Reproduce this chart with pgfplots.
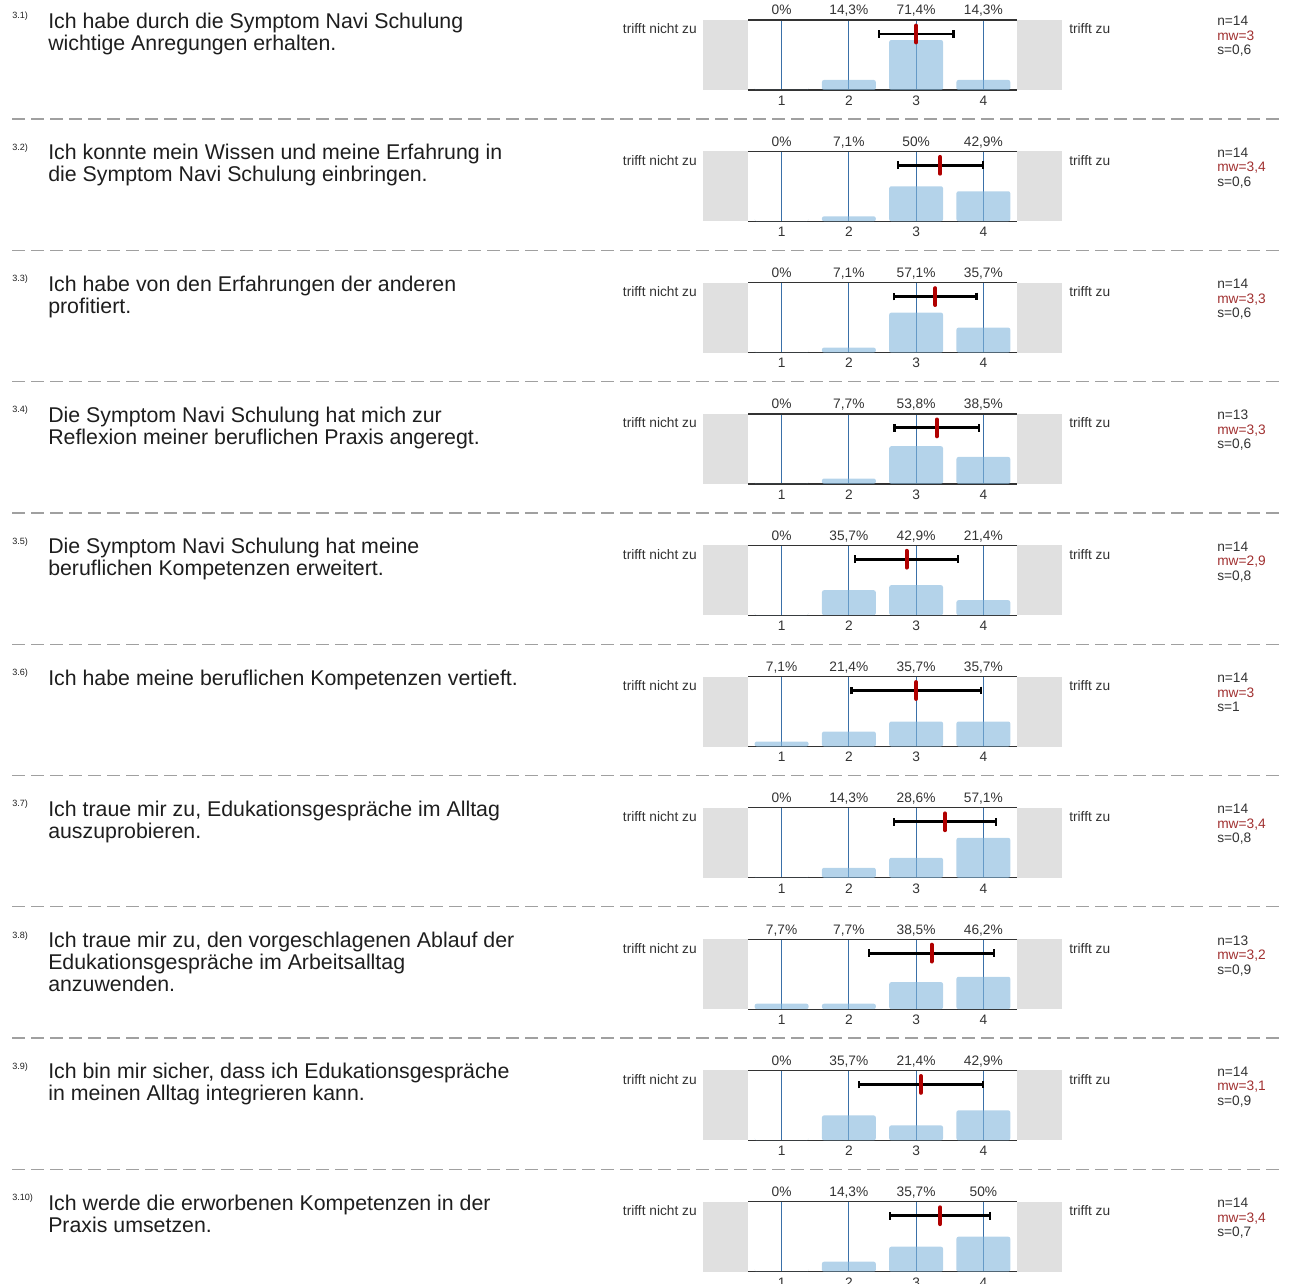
\documentclass[border=0pt]{standalone}
\usepackage{pgfplots}
\pgfplotsset{compat=1.18}
\usepackage{pgfplotstable}
\usepackage{fontspec}
\setmainfont{Liberation Sans}
\definecolor{barblue}{HTML}{82B6DC}
\definecolor{gridblue}{HTML}{3A70A8}
\definecolor{boxgray}{HTML}{E0E0E0}
\definecolor{meanred}{HTML}{B00000}
\definecolor{mwred}{HTML}{A03030}
\definecolor{txt}{HTML}{1E1E1E}
\definecolor{smalltxt}{HTML}{333333}
\definecolor{dashgray}{HTML}{A0A0A0}
\pgfkeys{/pgf/number format/assume math mode=true}

% distribution of answers (percent) per item
\pgfplotstableread{
cat q1 q2 q3 q4 q5 q6 q7 q8 q9 q10
1 0 0 0 0 0 7.1 0 7.7 0 0
2 14.3 7.1 7.1 7.7 35.7 21.4 14.3 7.7 35.7 14.3
3 71.4 50 57.1 53.8 42.9 35.7 28.6 38.5 21.4 35.7
4 14.3 42.9 35.7 38.5 21.4 35.7 57.1 46.2 42.9 50
}\dist

\newcommand{\qfont}{\fontsize{16}{16.5}\selectfont}
\newcommand{\sfont}{\fontsize{10.3}{12}\selectfont}

% #1 row index, #2 column, #3 label, #4 text, #5 n, #6 mean, #7 sd
\newcommand{\qrow}[7]{%
\pgfmathsetmacro{\ro}{#1*131.3}%
\draw[dashgray, line width=1pt, dash pattern=on 9.75pt off 4.5pt] (12,\ro+119) -- (1285,\ro+119);
\fill[boxgray] (703,\ro+20) rectangle (748,\ro+90);
\fill[boxgray] (1017,\ro+20) rectangle (1062,\ro+90);
\node[anchor=base west, inner sep=0pt, text=txt, font=\fontsize{6.8}{8}\selectfont] at (12,\ro+19) {#3};
\node[anchor=base west, inner sep=0pt, text=txt, font=\qfont] at (48,\ro+28.5)
  {\begin{tabular}[t]{@{}l@{}}#4\end{tabular}};
\node[anchor=base east, inner sep=0pt, text=smalltxt, font=\sfont] at (697,\ro+34) {trifft nicht zu};
\node[anchor=base west, inner sep=0pt, text=smalltxt, font=\sfont] at (1069,\ro+34) {trifft zu};
\node[anchor=base west, inner sep=0pt, text=smalltxt, font=\sfont] at (1217,\ro+26) {n=#5};
\node[anchor=base west, inner sep=0pt, text=mwred, font=\sfont] at (1217,\ro+40.5) {mw=\pgfmathprintnumber[fixed,precision=1,use comma]{#6}};
\node[anchor=base west, inner sep=0pt, text=smalltxt, font=\sfont] at (1217,\ro+55) {s=\pgfmathprintnumber[fixed,precision=1,use comma]{#7}};
\begin{axis}[
  at={(561pt,{-(\ro+90)*0.75pt})}, anchor=south west,
  scale only axis, width=201.75pt, height=52.5pt,
  xmin=0.5, xmax=4.5, ymin=0, ymax=100,
  axis x line=box, axis y line=none,
  xtick={1,2,3,4}, ytick=\empty, major tick length=0pt,
  xmajorgrids, grid style={gridblue, line width=0.75pt},
  axis line style={line width=0.9pt, color=black!80},
  xticklabel style={font=\sfont, text=smalltxt, anchor=base, yshift=-11.5pt},
  clip=false,
  /pgf/number format/.cd, use comma, fixed, precision=1, assume math mode=true,
]
\addplot[ybar, bar width=0.8, fill=barblue, fill opacity=0.6, draw=none, rounded corners=1.5pt]
  table[x=cat, y=#2] {\dist};
\addplot[draw=none, mark=none, point meta=explicit,
  nodes near coords={\pgfmathprintnumber{\pgfplotspointmeta}\%},
  nodes near coords style={font=\sfont, text=smalltxt, anchor=base, yshift=3.75pt}]
  table[x=cat, y expr=100, meta=#2] {\dist};
\addplot[black, mark=none, line width=2.2pt,
  error bars/.cd, x dir=both, x explicit,
  error bar style={line width=2.2pt, black},
  error mark=|, error mark options={black, line width=1.6pt, mark size=2.9pt}]
  coordinates {(#6,80) +- (#7,0)};
\addplot[only marks, mark=|, mark size=6.3pt,
  mark options={meanred, line width=3pt, line cap=round}]
  coordinates {(#6,80)};
\end{axis}
}

\begin{document}
\begin{tikzpicture}[x=0.75pt, y=-0.75pt]
\useasboundingbox (0,0) rectangle (1290,1284);
\clip (0,0) rectangle (1290,1284);
\qrow{0}{q1}{3.1)}{Ich habe durch die Symptom Navi Schulung\\wichtige Anregungen erhalten.}{14}{3.000}{0.555}
\qrow{1}{q2}{3.2)}{Ich konnte mein Wissen und meine Erfahrung in\\die Symptom Navi Schulung einbringen.}{14}{3.357}{0.633}
\qrow{2}{q3}{3.3)}{Ich habe von den Erfahrungen der anderen\\profitiert.}{14}{3.286}{0.611}
\qrow{3}{q4}{3.4)}{Die Symptom Navi Schulung hat mich zur\\Reflexion meiner beruflichen Praxis angeregt.}{13}{3.308}{0.630}
\qrow{4}{q5}{3.5)}{Die Symptom Navi Schulung hat meine\\beruflichen Kompetenzen erweitert.}{14}{2.857}{0.770}
\qrow{5}{q6}{3.6)}{Ich habe meine beruflichen Kompetenzen vertieft.}{14}{3.000}{0.961}
\qrow{6}{q7}{3.7)}{Ich traue mir zu, Edukationsgespräche im Alltag\\auszuprobieren.}{14}{3.429}{0.756}
\qrow{7}{q8}{3.8)}{Ich traue mir zu, den vorgeschlagenen Ablauf der\\Edukationsgespräche im Arbeitsalltag\\anzuwenden.}{13}{3.231}{0.927}
\qrow{8}{q9}{3.9)}{Ich bin mir sicher, dass ich Edukationsgespräche\\in meinen Alltag integrieren kann.}{14}{3.071}{0.917}
\qrow{9}{q10}{3.10)}{Ich werde die erworbenen Kompetenzen in der\\Praxis umsetzen.}{14}{3.357}{0.745}
\end{tikzpicture}
\end{document}
